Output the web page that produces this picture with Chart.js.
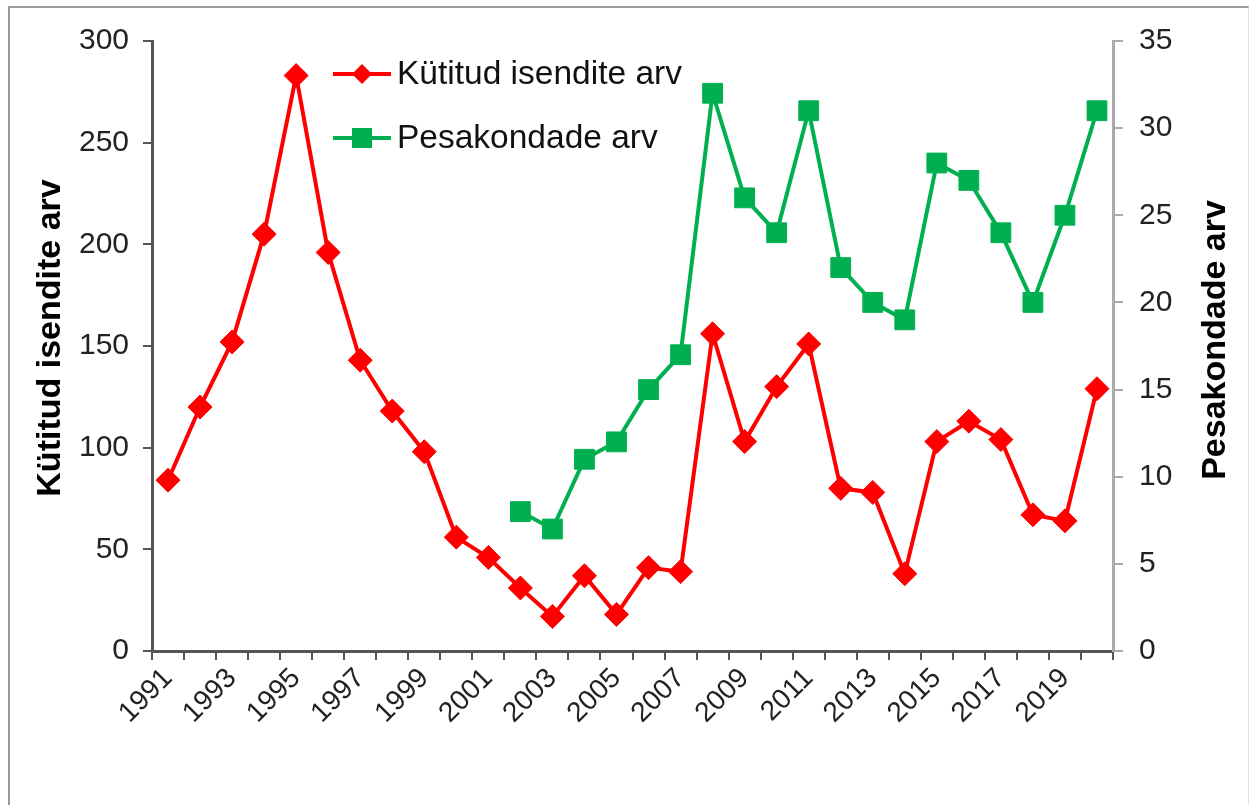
<!DOCTYPE html>
<html>
<head>
<meta charset="utf-8">
<script src="https://cdn.jsdelivr.net/npm/chart.js@4.4.0/dist/chart.umd.min.js"></script>
<style>
html, body { margin: 0; padding: 0; background: #fff; }
#wrap { position: relative; width: 1250px; height: 805px; overflow: hidden; }
#frame { position: absolute; left: 8px; top: 6px; width: 1238px; height: 820px;
  border-left: 2px solid #9a9a9a; border-top: 2px solid #9a9a9a; border-right: 1px solid #e0e0e0; }
canvas { position: absolute; left: 0; top: 0; }
</style>
</head>
<body>
<div id="wrap">
  <div id="frame"></div>
  <canvas id="graafik" width="1250" height="805"></canvas>
</div>
<script>
// === Andmed ===
var aastad = ['1991','1992','1993','1994','1995','1996','1997','1998','1999','2000',
  '2001','2002','2003','2004','2005','2006','2007','2008','2009','2010',
  '2011','2012','2013','2014','2015','2016','2017','2018','2019','2020'];
var kutitud = [84,120,152,205,283,196,143,118,98,56,46,31,17,37,18,41,39,156,103,130,
  151,80,78,38,103,113,104,67,64,129];
var pesakonnad = [null,null,null,null,null,null,null,null,null,null,null,
  8,7,11,12,15,17,32,26,24,31,22,20,19,28,27,24,20,25,31];
var tituloVasak = 'Kütitud isendite arv';
var tituloParem = 'Pesakondade arv';

var FONT = '"Liberation Sans", Arial, sans-serif';
Chart.defaults.font.family = FONT;
Chart.defaults.color = '#222';

// === Legend ja teljepealkirjad ===
var lisad = {
  id: 'lisad',
  afterDraw: function(chart) {
    var ctx = chart.ctx;
    ctx.save();
    ctx.fillStyle = '#000';
    ctx.font = 'bold 34px ' + FONT;
    ctx.textAlign = 'center';
    ctx.textBaseline = 'middle';

    ctx.save();
    ctx.translate(51, 338);
    ctx.rotate(-Math.PI / 2);
    ctx.fillText(tituloVasak, 0, 0);
    ctx.restore();

    ctx.save();
    ctx.translate(1216, 340);
    ctx.rotate(-Math.PI / 2);
    ctx.fillText(tituloParem, 0, 0);
    ctx.restore();

    // legend
    ctx.font = '33.5px ' + FONT;
    ctx.textAlign = 'left';
    chart.data.datasets.forEach(function(ds, i) {
      var y = 74 + i * 64;
      ctx.strokeStyle = ds.borderColor;
      ctx.lineWidth = 4;
      ctx.beginPath();
      ctx.moveTo(333, y);
      ctx.lineTo(391, y);
      ctx.stroke();
      ctx.fillStyle = ds.borderColor;
      ctx.beginPath();
      if (ds.pointStyle === 'rectRot') {
        ctx.moveTo(362, y - 10); ctx.lineTo(372, y); ctx.lineTo(362, y + 10); ctx.lineTo(352, y);
      } else {
        ctx.rect(352, y - 10, 20, 20);
      }
      ctx.closePath();
      ctx.fill();
      ctx.fillStyle = '#111';
      ctx.fillText(ds.label, 397, y + 1);
    });
    ctx.restore();
  }
};

var ctxG = document.getElementById('graafik');
new Chart(ctxG, {
  type: 'line',
  data: {
    labels: aastad,
    datasets: [{
      label: 'Kütitud isendite arv',
      data: kutitud,
      yAxisID: 'y',
      borderColor: '#ff0000',
      backgroundColor: '#ff0000',
      borderWidth: 4,
      pointStyle: 'rectRot',
      pointRadius: 12,
      pointBackgroundColor: '#ff0000',
      pointBorderColor: '#ff0000',
      pointBorderWidth: 1,
      tension: 0
    }, {
      label: 'Pesakondade arv',
      data: pesakonnad,
      yAxisID: 'y2',
      borderColor: '#00b050',
      backgroundColor: '#00b050',
      borderWidth: 4,
      pointStyle: 'rect',
      pointRadius: 14,
      pointBackgroundColor: '#00b050',
      pointBorderColor: '#00b050',
      pointBorderWidth: 1,
      tension: 0
    }]
  },
  options: {
    responsive: false,
    animation: false,
    layout: { padding: { top: 41, left: 0, right: 0, bottom: 0 } },
    plugins: { legend: { display: false }, tooltip: { enabled: false } },
    scales: {
      x: {
        offset: true,
        afterFit: function(s) { s.height = 154; },
        grid: { offset: true, drawOnChartArea: false, color: '#555', lineWidth: 2, tickLength: 9 },
        border: { color: '#555', width: 3 },
        ticks: {
          autoSkip: false, maxRotation: 45, minRotation: 45, padding: 2,
          font: { size: 28 }, color: '#222',
          callback: function(v, i) { return i % 2 === 0 ? this.getLabelForValue(v) : ''; }
        }
      },
      y: {
        position: 'left',
        min: 0, max: 300,
        afterFit: function(s) { s.width = 152; },
        grid: { drawOnChartArea: false, color: '#555', lineWidth: 2, tickLength: 9 },
        border: { color: '#555', width: 3 },
        ticks: { stepSize: 50, padding: 14, font: { size: 30 }, color: '#222' }
      },
      y2: {
        position: 'right',
        min: 0, max: 35,
        afterFit: function(s) { s.width = 137; },
        grid: { drawOnChartArea: false, color: '#aaa', lineWidth: 2, tickLength: 10 },
        border: { color: '#aaa', width: 3 },
        ticks: { stepSize: 5, padding: 16, font: { size: 30 }, color: '#222' }
      }
    }
  },
  plugins: [lisad]
});
</script>
</body>
</html>
